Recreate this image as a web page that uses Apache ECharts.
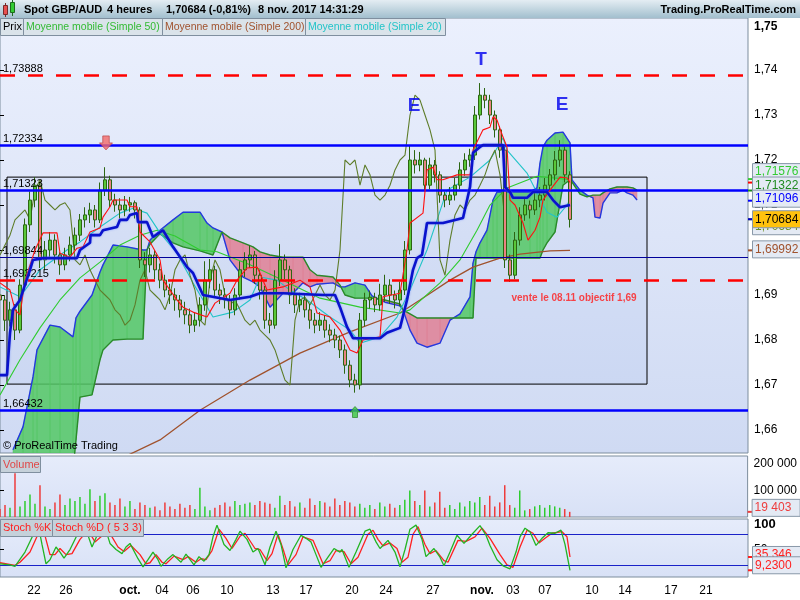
<!DOCTYPE html>
<html>
<head>
<meta charset="utf-8">
<script src="https://cdn.jsdelivr.net/npm/echarts@6.0.0/dist/echarts.min.js"></script>
<style>html,body{margin:0;padding:0;background:#fff;}#chart{width:800px;height:600px;}</style>
</head>
<body>
<div id="chart"></div>
<script>
// ---------------- DATA ----------------
// x unit = one 8h step (two 4h bars); candles are [open, close, low, high]
const candles = [
[1.6900,1.6889,1.6860,1.6915],[1.6889,1.6844,1.6820,1.6900],[1.6844,1.6867,1.6830,1.6885],[1.6867,1.6822,1.6800,1.6880],
[1.6822,1.6922,1.6815,1.6935],[1.6922,1.7056,1.6910,1.7070],[1.7056,1.7111,1.7040,1.7130],[1.7111,1.7144,1.7095,1.7162],
[1.7144,1.6978,1.6960,1.7150],[1.6978,1.7000,1.6955,1.7020],[1.7000,1.7022,1.6985,1.7040],[1.7022,1.6989,1.6970,1.7035],
[1.6989,1.6967,1.6945,1.6995],[1.6967,1.6989,1.6955,1.7005],[1.6989,1.7011,1.6975,1.7030],[1.7011,1.7033,1.7000,1.7050],
[1.7033,1.7067,1.7020,1.7080],[1.7067,1.7078,1.7050,1.7095],[1.7078,1.7089,1.7060,1.7105],[1.7089,1.7067,1.7050,1.7100],
[1.7067,1.7133,1.7060,1.7150],[1.7133,1.7156,1.7120,1.7184],[1.7156,1.7111,1.7095,1.7165],[1.7111,1.7100,1.7085,1.7125],
[1.7100,1.7089,1.7070,1.7115],[1.7089,1.7100,1.7075,1.7120],[1.7100,1.7105,1.7085,1.7118],[1.7105,1.7089,1.7070,1.7110],
[1.7089,1.6978,1.6960,1.7095],[1.6978,1.6967,1.6940,1.6995],[1.6967,1.6989,1.6950,1.7005],[1.6989,1.6956,1.6935,1.7000],
[1.6956,1.6933,1.6915,1.6970],[1.6933,1.6911,1.6895,1.6945],[1.6911,1.6900,1.6880,1.6925],[1.6900,1.6889,1.6865,1.6915],
[1.6889,1.6867,1.6850,1.6900],[1.6867,1.6856,1.6835,1.6885],[1.6856,1.6833,1.6815,1.6870],[1.6833,1.6844,1.6818,1.6860],
[1.6844,1.6878,1.6830,1.6895],[1.6878,1.6933,1.6865,1.6975],[1.6933,1.6956,1.6915,1.6980],[1.6956,1.6911,1.6895,1.6965],
[1.6911,1.6900,1.6880,1.6925],[1.6900,1.6889,1.6870,1.6915],[1.6889,1.6867,1.6848,1.6900],[1.6867,1.6900,1.6855,1.6915],
[1.6900,1.6956,1.6890,1.6975],[1.6956,1.6978,1.6940,1.6995],[1.6978,1.6989,1.6960,1.7010],[1.6989,1.6944,1.6925,1.6998],
[1.6944,1.6911,1.6890,1.6955],[1.6911,1.6844,1.6825,1.6920],[1.6844,1.6833,1.6815,1.6860],[1.6833,1.6933,1.6825,1.6955],
[1.6933,1.6978,1.6920,1.7013],[1.6978,1.6956,1.6935,1.6990],[1.6956,1.6900,1.6880,1.6965],[1.6900,1.6878,1.6860,1.6915],
[1.6878,1.6889,1.6862,1.6905],[1.6889,1.6867,1.6850,1.6900],[1.6867,1.6844,1.6825,1.6880],[1.6844,1.6833,1.6815,1.6860],
[1.6833,1.6844,1.6820,1.6862],[1.6844,1.6822,1.6805,1.6855],[1.6822,1.6811,1.6795,1.6835],[1.6811,1.6800,1.6782,1.6825],
[1.6800,1.6778,1.6760,1.6810],[1.6778,1.6744,1.6725,1.6790],[1.6744,1.6711,1.6695,1.6755],[1.6711,1.6700,1.6683,1.6725],
[1.6700,1.6844,1.6690,1.6860],[1.6844,1.6889,1.6830,1.6905],[1.6889,1.6895,1.6870,1.6910],[1.6895,1.6878,1.6862,1.6905],
[1.6878,1.6900,1.6865,1.6925],[1.6900,1.6922,1.6885,1.6945],[1.6922,1.6900,1.6880,1.6935],[1.6900,1.6889,1.6870,1.6910],
[1.6889,1.6911,1.6875,1.6930],[1.6911,1.7000,1.6900,1.7020],[1.7000,1.7200,1.6990,1.7233],[1.7200,1.7189,1.7170,1.7222],
[1.7189,1.7200,1.7175,1.7218],[1.7200,1.7144,1.7130,1.7205],[1.7144,1.7189,1.7135,1.7205],[1.7189,1.7167,1.7150,1.7200],
[1.7167,1.7122,1.7105,1.7175],[1.7122,1.7111,1.7095,1.7130],[1.7111,1.7122,1.7100,1.7140],[1.7122,1.7144,1.7110,1.7160],
[1.7144,1.7178,1.7135,1.7195],[1.7178,1.7200,1.7165,1.7215],[1.7200,1.7211,1.7185,1.7225],[1.7211,1.7300,1.7200,1.7320],
[1.7300,1.7344,1.7290,1.7371],[1.7344,1.7333,1.7315,1.7360],[1.7333,1.7300,1.7280,1.7345],[1.7300,1.7267,1.7250,1.7310],
[1.7267,1.7222,1.7205,1.7275],[1.7222,1.6978,1.6960,1.7230],[1.6978,1.6944,1.6929,1.6990],[1.6944,1.7022,1.6935,1.7040],
[1.7022,1.7078,1.7010,1.7095],[1.7078,1.7100,1.7065,1.7115],[1.7100,1.7089,1.7070,1.7110],[1.7089,1.7111,1.7078,1.7130],
[1.7111,1.7122,1.7095,1.7140],[1.7122,1.7144,1.7110,1.7160],[1.7144,1.7167,1.7130,1.7180],[1.7167,1.7200,1.7155,1.7220],
[1.7200,1.7222,1.7185,1.7244],[1.7222,1.7167,1.7150,1.7230],[1.7167,1.7068,1.7050,1.7175]
];
const volumes = [
30000,45000,35000,165000,40000,60000,85000,50000,120000,40000,30000,55000,85000,45000,70000,60000,75000,50000,105000,60000,
80000,90000,55000,45000,70000,40000,60000,30000,55000,45000,35000,40000,25000,55000,40000,30000,50000,35000,45000,30000,
110000,40000,25000,35000,45000,55000,40000,60000,45000,50000,55000,45000,60000,55000,50000,35000,80000,45000,60000,40000,
55000,35000,70000,45000,60000,55000,40000,70000,45000,60000,55000,40000,50000,35000,45000,30000,55000,40000,50000,35000,
45000,65000,100000,60000,45000,100000,40000,55000,95000,35000,45000,30000,55000,40000,60000,55000,75000,45000,80000,40000,
55000,120000,45000,35000,100000,25000,30000,40000,45000,35000,45000,40000,35000,30000,19403
];
const ma200 = [[25.2,1.6542],[32,1.6578],[40,1.6644],[50,1.6711],[60,1.6771],[70,1.6818],[80,1.6860],[84,1.6889],[90,1.6933],[94.6,1.6962],[100,1.6982],[104,1.6991],[110,1.6998],[114,1.6999]];
const ma50 = [[0,1.6678],[4,1.6756],[8,1.6827],[12,1.6889],[16,1.6938],[20,1.6973],[24,1.7011],[28,1.7033],[31.4,1.7044],[35,1.7031],[40,1.7000],[43.4,1.6996],[50,1.6967],[56.6,1.6933],[64,1.6893],[72,1.6873],[80,1.6860],[82,1.6867],[88,1.6927],[92,1.6978],[95.4,1.7044],[98,1.7100],[101.4,1.7138],[107.4,1.7164],[114,1.7156]];
const ma20 = [[0,1.6918],[4,1.6896],[8,1.6956],[13.4,1.7000],[16,1.7018],[20,1.7051],[24,1.7082],[26.6,1.7093],[29.4,1.7082],[32,1.7038],[35.4,1.6993],[38.6,1.6927],[42.6,1.6851],[46.6,1.6862],[50,1.6889],[52,1.6940],[55.4,1.6933],[58,1.6911],[61.4,1.6889],[66,1.6851],[70,1.6822],[72,1.6793],[76,1.6807],[79.4,1.6851],[82,1.6911],[85.4,1.7000],[89.4,1.7133],[94,1.7162],[98,1.7200],[100.6,1.7249],[101.4,1.7222],[105.4,1.7171],[107.4,1.7127],[109.4,1.7084],[111.4,1.7073],[113.4,1.7100],[114,1.7111]];
const tenkan = [[0,1.6927],[2,1.6911],[3,1.6867],[4,1.6856],[5,1.6933],[7,1.7000],[8.6,1.7038],[11.4,1.7038],[12,1.6993],[14,1.6984],[15.4,1.7004],[16.6,1.7007],[18,1.7040],[20,1.7049],[20.6,1.7073],[22,1.7096],[22.6,1.7111],[25.4,1.7111],[26,1.7096],[27.4,1.7096],[28,1.7040],[30,1.7018],[32,1.6978],[32.6,1.6933],[35.4,1.6889],[36.6,1.6873],[38.6,1.6862],[41.4,1.6851],[43,1.6882],[46,1.6904],[47.4,1.6933],[49.4,1.6960],[51.4,1.6962],[52,1.6949],[53.4,1.6911],[56.6,1.6918],[60,1.6933],[62,1.6918],[63.4,1.6860],[66,1.6851],[68,1.6822],[70,1.6778],[71.4,1.6771],[72.6,1.6800],[76,1.6807],[76.6,1.6896],[80,1.6904],[81.4,1.7000],[82,1.7060],[84.6,1.7082],[85.4,1.7178],[86.6,1.7184],[87.4,1.7156],[88.6,1.7156],[91.4,1.7167],[94,1.7167],[94.6,1.7222],[96.6,1.7267],[98,1.7273],[98.6,1.7296],[99.4,1.7289],[100.6,1.7251],[101.4,1.7229],[102,1.7111],[103,1.7100],[104.6,1.7060],[105.6,1.7022],[107,1.7044],[108,1.7073],[108.6,1.7111],[110,1.7133],[112,1.7162],[113.4,1.7160],[114,1.7150]];
const kijun = [[0,1.6722],[1.4,1.6722],[2,1.6816],[2.6,1.6867],[4,1.6889],[6,1.6956],[6.6,1.6978],[8.6,1.6982],[15.4,1.6982],[16,1.7000],[18,1.7016],[18.1,1.7033],[20,1.7033],[20.6,1.7044],[23.4,1.7051],[24,1.7067],[25.4,1.7067],[26,1.7078],[27.4,1.7082],[27.6,1.7062],[29.4,1.7062],[30.6,1.7029],[32.6,1.7044],[34.6,1.7007],[37.4,1.6962],[38.6,1.6949],[40.6,1.6900],[46,1.6889],[50,1.6896],[52,1.6904],[56.6,1.6904],[64.6,1.6900],[67,1.6900],[68,1.6873],[69.4,1.6829],[70.6,1.6804],[76,1.6804],[77.4,1.6816],[80,1.6827],[81.4,1.6889],[82.6,1.6956],[83.4,1.6982],[84.4,1.6989],[85.4,1.7060],[88.6,1.7060],[92.6,1.7071],[94,1.7140],[94.6,1.7216],[96,1.7229],[96.6,1.7233],[100.6,1.7233],[101,1.7140],[102,1.7129],[102.6,1.7116],[105.4,1.7116],[106.6,1.7129],[109.4,1.7129],[110.6,1.7111],[112,1.7095],[114,1.7100]];
const chikouShift = 13; // 26 four-hour bars
const cloudX = [2.6,4.6,6.6,7.4,10,12,14.6,15.2,16,18.4,20,20.6,22.6,25.4,28.6,29.4,30,32,34.6,36.6,40,41.4,42.6,44.4,46,48.6,50.6,52,54,56.6,58.6,60.6,62,63.4,66.6,68,69,71,73,74.4,77,80,80.6,82,83.4,85.4,88,90,92,94,94.6,95.2,96,97.4,98.6,99.4,102,106,107.4,108,108.6,109.4,111,112.6,114,114.4,116,117.4,118.6,119,120,120.6,122,123.4,124.6,125.4,126.6,127.4];
const spanA = [1.6556,1.6607,1.6718,1.6778,1.6833,1.6829,1.6807,1.6849,1.6864,1.6900,1.6951,1.6967,1.7011,1.7007,1.7000,1.7000,1.7022,1.7044,1.7067,1.7084,1.7084,1.7060,1.7049,1.7040,1.6978,1.6940,1.6929,1.6918,1.6873,1.6904,1.6904,1.6927,1.6918,1.6924,1.6927,1.6918,1.6918,1.6927,1.6922,1.6898,1.6884,1.6876,1.6867,1.6822,1.6793,1.6784,1.6793,1.6844,1.6858,1.6896,1.6971,1.6996,1.7016,1.7044,1.7111,1.7129,1.7129,1.7129,1.7138,1.7193,1.7229,1.7244,1.7260,1.7262,1.7238,1.7156,1.7133,1.7122,1.7116,1.7073,1.7071,1.7104,1.7127,1.7127,1.7133,1.7127,1.7122,1.7111];
const spanB = [1.6489,1.6489,1.6489,1.6489,1.6489,1.6489,1.6511,1.6578,1.6673,1.6678,1.6756,1.6778,1.6800,1.6802,1.6802,1.7000,1.7013,1.7036,1.7016,1.7007,1.6998,1.6993,1.6989,1.7040,1.7027,1.7016,1.7007,1.6996,1.6989,1.6984,1.6984,1.6984,1.6956,1.6944,1.6940,1.6922,1.6900,1.6893,1.6893,1.6893,1.6889,1.6880,1.6867,1.6858,1.6849,1.6849,1.6849,1.6849,1.6849,1.6849,1.6849,1.6982,1.6982,1.6982,1.6982,1.6982,1.6982,1.6982,1.6982,1.6982,1.7000,1.7016,1.7040,1.7144,1.7156,1.7151,1.7124,1.7118,1.7122,1.7122,1.7122,1.7127,1.7136,1.7140,1.7140,1.7140,1.7138,1.7133];
const stochK = [[0,22],[2,20],[3,17],[5,45],[6.6,78],[7.6,100],[8.4,60],[9.2,22],[10,30],[11.2,55],[12,45],[12.8,33],[14,50],[15.4,78],[17,95],[18.4,55],[19.6,82],[20.8,100],[22,62],[23.2,50],[24.4,42],[25.2,55],[26,62],[27.6,32],[28.6,16],[29.6,30],[30.6,45],[31.6,30],[32.2,17],[33.6,32],[34.6,40],[36.2,25],[37.2,41],[38.8,20],[39.8,36],[40.8,27],[41.8,40],[42.6,75],[43.4,98],[44.8,60],[46,48],[47.2,70],[48,86],[49.4,70],[50.6,45],[51.6,52],[53,20],[54,55],[55.2,86],[56.2,60],[57.2,14],[58.6,50],[60.2,78],[61.2,72],[62.2,65],[63.2,40],[64.2,15],[65.6,35],[66.8,52],[68,45],[68.4,50],[69.8,15],[71.2,45],[73,86],[74,90],[75.2,65],[76,52],[77.6,68],[79,45],[80,16],[81,50],[82,90],[83.2,98],[84.4,70],[85.2,36],[86.8,52],[88,35],[88.8,18],[90,45],[91.4,78],[92.8,62],[94.4,80],[96,97],[97.2,78],[98,58],[99.4,30],[100.6,18],[102,12],[103.2,45],[104,75],[105,92],[106,85],[107.2,58],[108.4,72],[109.6,83],[111,82],[112.2,88],[113,60],[114,9.23]];
const stochD = [[0,24],[3,19],[4,25],[6,45],[7.6,80],[8.6,92],[10,40],[11,40],[12,52],[13.2,40],[14.4,42],[16,70],[17.6,88],[19,65],[20.2,75],[21.4,92],[22.4,75],[23.6,55],[24.8,46],[26.2,58],[28,40],[29.2,22],[30,24],[31.2,40],[32.4,25],[33.2,22],[34.8,37],[36.6,30],[37.6,36],[39.2,25],[40.2,32],[41.2,30],[42.4,48],[43.8,90],[45.2,72],[46.4,52],[48,76],[49,82],[51,52],[52,50],[53.4,28],[54.4,42],[55.6,80],[56.8,45],[57.6,20],[59.2,40],[60.6,75],[62.6,68],[63.6,45],[64.6,22],[66,28],[67.2,48],[68.8,46],[70.2,22],[71.6,35],[73.6,80],[74.6,88],[75.6,70],[76.6,57],[78,63],[79.4,52],[80.4,25],[81.6,35],[82.6,80],[83.6,95],[85,60],[86,42],[87.2,48],[88.8,28],[89.6,25],[91.6,68],[93.2,66],[95,75],[96.4,92],[98,72],[100,40],[101.4,20],[102.6,15],[104,55],[105.4,88],[106.6,82],[107.8,63],[109,72],[110.4,82],[112.4,85],[113.4,75],[114,35.346]];
const levels = [1.73888, 1.72334, 1.71323, 1.69844, 1.693215, 1.66432];
const levelText = ['1,73888','1,72334','1,71323','1,69844','1,693215','1,66432'];
const boxX = [1.4, 129.4];
const boxY = [1.7162, 1.6702];
const lastVals = [1.71499, 1.71576, 1.71322, 1.71096, 1.70684, 1.70684, 1.69992];
const lastVolume = 19403;
const lastStoch = [35.346, 9.2300];
const priceTicks = [1.66,1.67,1.68,1.69,1.70,1.71,1.72,1.73,1.74,1.75];
const volTicks = [100000, 200000];
const stochTicks = [50, 100];
const dayLabels = ['22','26','oct.','04','06','10','13','17','20','24','27','nov.','03','07','10','14','17','21'];
const dayPos = [6.8,13.2,26,32.4,38.6,45.4,54.6,61.2,70.4,77.2,86.6,96.4,102.6,109,118.4,125,134.2,141.2];
const marks = ['T','E','E'];
const markPos = [[96.2,1.7422],[82.8,1.7320],[112.4,1.7322]];
const noteText = 'vente le 08.11 objectif 1,69';
const notePos = [102.2, 1.6893];
const arrowDown = [21.2, 1.7238];
const arrowUp = [71, 1.6640];

// ---------------- STYLE / LAYOUT ----------------
const FONT = '"Liberation Sans", Arial, sans-serif';
const XMAX = 149.6;
const lastStyle = [
  {c:'#ff0000', bg:'#e4eaf4', dy:-2},
  {c:'#33cc33', bg:'#e4eaf4', dy:-7},
  {c:'#1f8a1f', bg:'#e4eaf4', dy:-5},
  {c:'#0000ff', bg:'#e4eaf4', dy:-2},
  {c:'#6b8e23', bg:'#e4eaf4', dy:7},
  {c:'#000000', bg:'#ffc20e', dy:0, tick:'#0000cc'},
  {c:'#a0522d', bg:'#e4eaf4', dy:-1}
];
const levelStyle = [
  {color:'#ff0000', width:2.5, type:[15,13]},
  {color:'#0000ff', width:2.5, type:'solid'},
  {color:'#0000ff', width:2.5, type:'solid'},
  {color:'#000099', width:1, type:'solid'},
  {color:'#ff0000', width:2.5, type:[15,13]},
  {color:'#0000ff', width:2.5, type:'solid'}
];
function vgrad(a,b){return {type:'linear',x:0,y:0,x2:0,y2:1,colorStops:[{offset:0,color:a},{offset:1,color:b}]};}
const GREEN_CLOUD = 'rgba(84,200,100,0.85)';
const PINK_CLOUD = 'rgba(224,128,148,0.85)';

function cloudItem(params, api) {
  const i = params.dataIndex;
  if (i >= cloudX.length - 1) return null;
  const x0 = cloudX[i], x1 = cloudX[i+1];
  const a0 = spanA[i], a1 = spanA[i+1], b0 = spanB[i], b1 = spanB[i+1];
  const d0 = a0 - b0, d1 = a1 - b1;
  const col = d => d >= 0 ? GREEN_CLOUD : PINK_CLOUD;
  const polys = [];
  if (d0 * d1 < 0) {
    const t = d0 / (d0 - d1);
    const xc = x0 + t * (x1 - x0), yc = a0 + t * (a1 - a0);
    polys.push({pts: [[x0,a0],[xc,yc],[x0,b0]], c: col(d0)});
    polys.push({pts: [[xc,yc],[x1,a1],[x1,b1]], c: col(d1)});
  } else {
    polys.push({pts: [[x0,a0],[x1,a1],[x1,b1],[x0,b0]], c: col(d0 + d1)});
  }
  return {type:'group', children: polys.map(p => ({
    type:'polygon', shape:{points: p.pts.map(q => api.coord(q))},
    style:{fill: p.c, stroke: p.c, lineWidth: 0.6}
  }))};
}

function boxLabel(pt, dy, text, color, bg, tickColor) {
  const y = pt[1] + dy;
  return {type:'group', children:[
    {type:'line', shape:{x1:pt[0], y1:pt[1], x2:pt[0]+5, y2:pt[1]}, style:{stroke: tickColor || color, lineWidth:2}},
    {type:'rect', shape:{x:pt[0]+4.5, y:y-8.5, width:48, height:17}, style:{fill:bg, stroke:'#8898a8', lineWidth:1}},
    {type:'text', style:{x:pt[0]+7, y:y, text:text, fill:color, font:'12px ' + FONT,
      textAlign:'left', textVerticalAlign:'middle', align:'left', verticalAlign:'middle'}}
  ]};
}
function txt(x, y, text, font, fill, align) {
  return {type:'text', z:101, x:x, y:y, style:{text:text, font:font, fill:fill,
    textAlign: align || 'left', align: align || 'left', textVerticalAlign:'middle', verticalAlign:'middle'}};
}

const chart = echarts.init(document.getElementById('chart'), null, {renderer:'canvas', width:800, height:600});

const candleData = candles.map((r, i) => [i, r[0], r[1], r[2], r[3]]);
const chikouData = candles.slice(chikouShift).map((r, i) => [i, r[1]]);
const volData = volumes.map((v, i) => ({value:[i, v], itemStyle:{color: candles[i][1] >= candles[i][0] ? '#2ecc2e' : '#ee3c3c'}}));

const labelCommon = {fontFamily: FONT, fontSize: 12, color:'#000'};

const option = {
  animation: false,
  backgroundColor: '#ffffff',
  textStyle: {fontFamily: FONT},
  grid: [
    {left:0, top:18, width:748, height:435, show:true, backgroundColor: vgrad('#ebf0fd','#cfdaf3'), borderColor:'#7d8d9d', borderWidth:1},
    {left:0, top:456, width:748, height:61, show:true, backgroundColor: vgrad('#e6ecfb','#d8e1f6'), borderColor:'#7d8d9d', borderWidth:1},
    {left:0, top:519, width:748, height:58, show:true, backgroundColor: vgrad('#e6ecfb','#d8e1f6'), borderColor:'#7d8d9d', borderWidth:1}
  ],
  xAxis: [
    {gridIndex:0, type:'value', min:0, max:XMAX, show:false},
    {gridIndex:1, type:'value', min:0, max:XMAX, show:false},
    {gridIndex:2, type:'value', min:0, max:XMAX, axisLine:{show:false}, axisTick:{show:false}, splitLine:{show:false},
      axisLabel:Object.assign({}, labelCommon, {customValues: dayPos, margin: 8,
        formatter: v => { let k = 0, best = 1e9; dayPos.forEach((p, j) => { if (Math.abs(p - v) < best) { best = Math.abs(p - v); k = j; } });
          const t = dayLabels[k]; return (t === 'oct.' || t === 'nov.') ? '{b|' + t + '}' : t; },
        rich:{b:{fontWeight:'bold', fontSize:12, fontFamily:FONT, color:'#000'}}})}
  ],
  yAxis: [
    {gridIndex:0, type:'value', position:'right', min:1.65489, max:1.75156, splitLine:{show:false}, axisLine:{show:false},
      axisTick:{show:true, customValues: priceTicks, length:4, lineStyle:{color:'#000'}},
      axisLabel:Object.assign({}, labelCommon, {customValues: priceTicks, margin:6,
        formatter: v => { const s = v.toFixed(2).replace('.', ','); return v > 1.745 ? '{b|' + s + '}' : s; },
        rich:{b:{fontWeight:'bold', fontSize:12, fontFamily:FONT, color:'#000', padding:[4,0,0,0]}}})},
    {gridIndex:1, type:'value', position:'right', min:0, max:230000, splitLine:{show:false}, axisLine:{show:false},
      axisTick:{show:true, customValues: volTicks, length:4, lineStyle:{color:'#000'}},
      axisLabel:Object.assign({}, labelCommon, {customValues: volTicks, margin:6,
        formatter: v => String(v).replace(/\B(?=(\d{3})+(?!\d))/g, ' ')})},
    {gridIndex:2, type:'value', position:'right', min:-4, max:110, splitLine:{show:false}, axisLine:{show:false},
      axisTick:{show:true, customValues: stochTicks, length:4, lineStyle:{color:'#000'}},
      axisLabel:Object.assign({}, labelCommon, {customValues: stochTicks, margin:6,
        formatter: v => v === 100 ? '{b|100}' : String(v),
        rich:{b:{fontWeight:'bold', fontSize:13, fontFamily:FONT, color:'#000'}}})}
  ],
  series: [
    // rectangle zone
    {type:'line', xAxisIndex:0, yAxisIndex:0, data:[], z:1, silent:true,
      markArea:{silent:true, precision:6, itemStyle:{color:'rgba(140,165,230,0.10)', borderColor:'#000', borderWidth:1},
        data:[[{coord:[boxX[0], boxY[0]]}, {coord:[boxX[1], boxY[1]]}]]}},
    // Ichimoku cloud
    {type:'custom', xAxisIndex:0, yAxisIndex:0, z:1, clip:true, silent:true, renderItem: cloudItem,
      data: cloudX.map((x, i) => [x, spanA[i], spanB[i]]), encode:{x:0, y:[1,2]}},
    {type:'line', xAxisIndex:0, yAxisIndex:0, z:2, symbol:'none', silent:true,
      data: cloudX.map((x, i) => [x, spanA[i]]), lineStyle:{color:'#2438e0', width:1.4}},
    {type:'line', xAxisIndex:0, yAxisIndex:0, z:2, symbol:'none', silent:true,
      data: cloudX.map((x, i) => [x, spanB[i]]), lineStyle:{color:'#2a8a2a', width:1.4}},
    // moving averages
    {type:'line', xAxisIndex:0, yAxisIndex:0, z:3, symbol:'none', data: ma200, lineStyle:{color:'#a0522d', width:1.3}},
    {type:'line', xAxisIndex:0, yAxisIndex:0, z:3, symbol:'none', data: ma50, lineStyle:{color:'#2fcc2f', width:1.1}},
    {type:'line', xAxisIndex:0, yAxisIndex:0, z:3, symbol:'none', data: ma20, lineStyle:{color:'#22c4c8', width:1.1}},
    // chikou
    {type:'line', xAxisIndex:0, yAxisIndex:0, z:3, symbol:'none', data: chikouData, lineStyle:{color:'#5e7d2a', width:1.1}},
    // candles
    {type:'candlestick', xAxisIndex:0, yAxisIndex:0, z:4, data: candleData,
      dimensions:['x','open','close','lowest','highest'], encode:{x:0, y:[1,2,3,4]}, barWidth:3,
      itemStyle:{color:'#5ac83a', color0:'#e98383', borderColor:'#2c6612', borderColor0:'#2c6612', borderWidth:1}},
    // tenkan / kijun
    {type:'line', xAxisIndex:0, yAxisIndex:0, z:5, symbol:'none', data: tenkan, lineStyle:{color:'#ff1010', width:1.1}},
    {type:'line', xAxisIndex:0, yAxisIndex:0, z:5, symbol:'none', data: kijun,
      lineStyle:{color:'#0a12cc', width:2.6, shadowColor:'rgba(90,120,255,0.7)', shadowBlur:2}},
    // horizontal levels
    {type:'line', xAxisIndex:0, yAxisIndex:0, z:6, data:[], silent:true,
      markLine:{silent:true, precision:6, symbol:['none','none'], animation:false,
        data: levels.map((v, i) => ({yAxis: v, lineStyle: levelStyle[i],
          label:{show:true, position:'insideStartTop', distance:[3,1], formatter: levelText[i], color:'#000', fontSize:11, fontFamily:FONT}}))}},
    // T / E marks
    {type:'scatter', xAxisIndex:0, yAxisIndex:0, z:7, symbolSize:1, itemStyle:{color:'transparent'}, silent:true,
      data: markPos.map((p, i) => ({value:p, label:{show:true, position:'inside', formatter: marks[i],
        color:'#0000ee', fontSize:19, fontWeight:'bold', fontFamily:FONT}}))},
    // note
    {type:'scatter', xAxisIndex:0, yAxisIndex:0, z:7, symbolSize:1, itemStyle:{color:'transparent'}, silent:true,
      data:[{value: notePos, label:{show:true, position:'right', distance:0, formatter: noteText,
        color:'#ff1a1a', fontSize:10, fontWeight:'bold', fontFamily:FONT}}]},
    // arrows
    {type:'scatter', xAxisIndex:0, yAxisIndex:0, z:7, silent:true,
      data:[
        {value: arrowDown, symbol:'path://M3,0L9,0L9,6L12,6L6,12L0,6L3,6Z', symbolSize:[13,14],
          itemStyle:{color:'#f26a6a', borderColor:'#b83a3a', borderWidth:0.8}},
        {value: arrowUp, symbol:'path://M6,0L12,6L9,6L9,12L3,12L3,6L0,6Z', symbolSize:[10,11],
          itemStyle:{color:'#3cc83c', borderColor:'#1e7a1e', borderWidth:0.8}}
      ]},
    // right side last-value boxes (price panel)
    {type:'custom', xAxisIndex:0, yAxisIndex:0, z:9, clip:false, silent:true,
      data: lastVals.map(v => [XMAX, v]),
      renderItem:(params, api) => { const i = params.dataIndex; const st = lastStyle[i];
        return boxLabel(api.coord([XMAX, lastVals[i]]), st.dy, lastVals[i].toFixed(5).replace('.', ','), st.c, st.bg, st.tick); }},
    // volume
    {type:'bar', xAxisIndex:1, yAxisIndex:1, z:3, barWidth:1.5, data: volData, silent:true},
    {type:'custom', xAxisIndex:1, yAxisIndex:1, z:9, clip:false, silent:true, data:[[XMAX, lastVolume]],
      renderItem:(params, api) => boxLabel(api.coord([XMAX, lastVolume]), -4,
        String(lastVolume).replace(/\B(?=(\d{3})+(?!\d))/g, ' '), '#ee3c3c', '#e4eaf4')},
    // stochastic
    {type:'line', xAxisIndex:2, yAxisIndex:2, z:4, symbol:'none', data: stochD, lineStyle:{color:'#ff2020', width:1.3},
      markLine:{silent:true, symbol:['none','none'], label:{show:false},
        data:[{yAxis:80}, {yAxis:20}], lineStyle:{color:'#1a22c8', width:1.2, type:'solid'}}},
    {type:'line', xAxisIndex:2, yAxisIndex:2, z:5, symbol:'none', data: stochK, lineStyle:{color:'#22b422', width:1.3}},
    {type:'custom', xAxisIndex:2, yAxisIndex:2, z:9, clip:false, silent:true, data: lastStoch.map(v => [XMAX, v]),
      renderItem:(params, api) => { const v = lastStoch[params.dataIndex];
        const t = params.dataIndex === 0 ? v.toFixed(3).replace('.', ',') : v.toFixed(4).replace('.', ',');
        return boxLabel(api.coord([XMAX, v]), params.dataIndex === 0 ? -2 : -5, t, '#ff2020', '#e4eaf4'); }}
  ],
  graphic: [
    {type:'rect', z:100, shape:{x:0, y:0, width:800, height:18}, style:{fill: vgrad('#e4edf3','#a2bfce')}},
    {type:'rect', z:101, shape:{x:3.5, y:5.5, width:4, height:9}, style:{fill:'#e85050', stroke:'#7a2a2a', lineWidth:1}},
    {type:'line', z:100, shape:{x1:5.5, y1:3, x2:5.5, y2:17}, style:{stroke:'#7a2a2a', lineWidth:1}},
    {type:'rect', z:101, shape:{x:10.5, y:2.5, width:4, height:10}, style:{fill:'#33cc33', stroke:'#1e6a1e', lineWidth:1}},
    {type:'line', z:100, shape:{x1:12.5, y1:0, x2:12.5, y2:16}, style:{stroke:'#1e6a1e', lineWidth:1}},
    txt(24, 10, 'Spot GBP/AUD', 'bold 11px ' + FONT, '#000'),
    txt(107, 10, '4 heures', 'bold 11px ' + FONT, '#000'),
    txt(166, 10, '1,70684 (-0,81%)', 'bold 11px ' + FONT, '#000'),
    txt(258, 10, '8 nov. 2017 14:31:29', 'bold 11px ' + FONT, '#000'),
    txt(796, 10, 'Trading.ProRealTime.com', 'bold 11px ' + FONT, '#000', 'right'),
    // legend boxes
    {type:'rect', z:100, shape:{x:0.5, y:18.5, width:23, height:17}, style:{fill:'#dae3ea', stroke:'#7f8f9f', lineWidth:1}},
    txt(3, 27, 'Prix', '11px ' + FONT, '#000'),
    {type:'rect', z:100, shape:{x:23.5, y:18.5, width:139, height:17}, style:{fill:'#dae3ea', stroke:'#7f8f9f', lineWidth:1}},
    txt(26, 27, 'Moyenne mobile (Simple 50)', '10.5px ' + FONT, '#33bb33'),
    {type:'rect', z:100, shape:{x:162.5, y:18.5, width:143, height:17}, style:{fill:'#dae3ea', stroke:'#7f8f9f', lineWidth:1}},
    txt(165, 27, 'Moyenne mobile (Simple 200)', '10.5px ' + FONT, '#a0522d'),
    {type:'rect', z:100, shape:{x:305.5, y:18.5, width:140, height:17}, style:{fill:'#dae3ea', stroke:'#7f8f9f', lineWidth:1}},
    txt(308, 27, 'Moyenne mobile (Simple 20)', '10.5px ' + FONT, '#22c4c8'),
    txt(3, 446, '© ProRealTime Trading', '11px ' + FONT, '#000'),
    {type:'rect', z:100, shape:{x:0.5, y:456.5, width:40, height:16}, style:{fill:'#c5d1da', stroke:'#7f8f9f', lineWidth:1}},
    txt(3, 465, 'Volume', '11px ' + FONT, '#e04848'),
    {type:'rect', z:100, shape:{x:0.5, y:519.5, width:52, height:17}, style:{fill:'#c5d1da', stroke:'#7f8f9f', lineWidth:1}},
    txt(3, 528, 'Stoch %K', '11px ' + FONT, '#ff2020'),
    {type:'rect', z:100, shape:{x:52.5, y:519.5, width:91, height:17}, style:{fill:'#c5d1da', stroke:'#7f8f9f', lineWidth:1}},
    txt(55, 528, 'Stoch %D ( 5 3 3)', '11px ' + FONT, '#ff2020')
  ]
};
chart.setOption(option);
</script>
</body>
</html>
